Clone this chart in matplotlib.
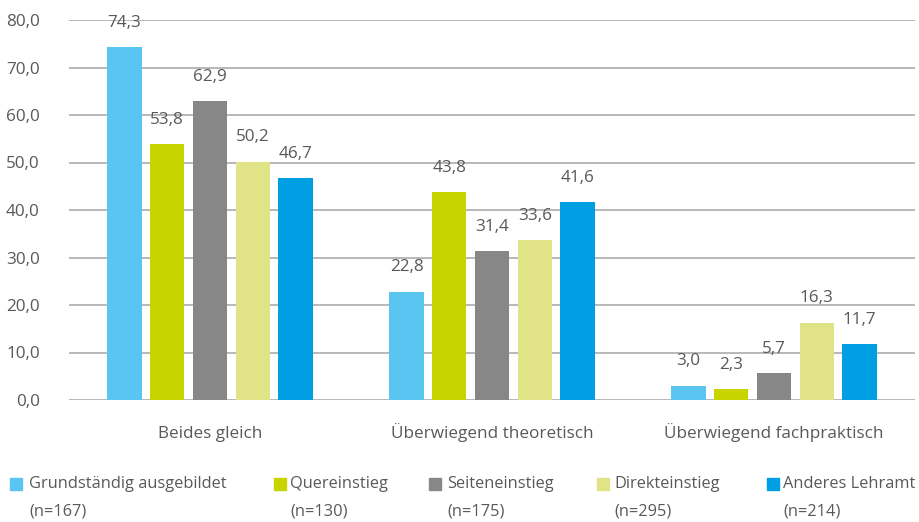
import matplotlib
matplotlib.use("Agg")
import matplotlib.pyplot as plt
from matplotlib.patches import Rectangle
import numpy as np

categories = ["Beides gleich", "Überwiegend theoretisch", "Überwiegend fachpraktisch"]
series_names = ["Grundständig ausgebildet", "Quereinstieg", "Seiteneinstieg", "Direkteinstieg", "Anderes Lehramt"]
series_n = ["(n=167)", "(n=130)", "(n=175)", "(n=295)", "(n=214)"]
grundstaendig = [74.3, 22.8, 3.0]
quereinstieg = [53.8, 43.8, 2.3]
seiteneinstieg = [62.9, 31.4, 5.7]
direkteinstieg = [50.2, 33.6, 16.3]
anderes = [46.7, 41.6, 11.7]
yticks = [0, 10, 20, 30, 40, 50, 60, 70, 80]

series = [grundstaendig, quereinstieg, seiteneinstieg, direkteinstieg, anderes]
colors = ["#5BC5F2", "#C8D400", "#878787", "#E0E386", "#009FE3"]
text_color = "#595959"
fs = 12.3
fs_leg = 11.8

plt.rcParams['font.family'] = ['Open Sans', 'DejaVu Sans']

fig = plt.figure(figsize=(9.19, 5.22), dpi=100)
W, H = 919, 522
ax = fig.add_axes([69 / W, 1 - 400 / H, 846 / W, 380 / H])

x = np.arange(len(categories))
step = 0.1515
width = 0.122
for i, (vals, c) in enumerate(zip(series, colors)):
    xs = x + (i - 2) * step
    ax.bar(xs, vals, width=width, color=c, zorder=3)
    for xi, v in zip(xs, vals):
        ax.annotate(f"{v:.1f}".replace(".", ","), (xi, v), xytext=(0, 17.5),
                    textcoords="offset points", ha="center", va="center",
                    fontsize=fs, color=text_color)

ax.set_xlim(-0.5, 2.5)
ax.set_ylim(0, 80)
ax.set_yticks(yticks)
ax.set_yticklabels([f"{t:.1f}".replace(".", ",") for t in yticks], fontsize=fs, color=text_color)
ax.set_xticks(x)
ax.set_xticklabels(categories, fontsize=fs, color=text_color, va="baseline")
ax.tick_params(axis="y", length=0, pad=21)
ax.tick_params(axis="x", length=0, pad=27.5)
ax.grid(axis="y", color="#ABABAB", linewidth=1.2, zorder=0)
for s in ax.spines.values():
    s.set_visible(False)
ax.set_axisbelow(True)

# Legend (manual, two rows)
sq_x = [10, 274, 429, 597, 767]
tx_x = [29, 290, 447, 614, 783]
for name, n, c, sx, tx in zip(series_names, series_n, colors, sq_x, tx_x):
    fig.patches.append(Rectangle((sx / W, 1 - 490 / H), 12 / W, 12 / H,
                                 transform=fig.transFigure, color=c, figure=fig))
    fig.text(tx / W, 1 - 484 / H, name, ha="left", va="center", fontsize=fs_leg, color=text_color)
    fig.text(tx / W, 1 - 512 / H, n, ha="left", va="center", fontsize=fs_leg, color=text_color)

fig.savefig("out.png", dpi=100)
